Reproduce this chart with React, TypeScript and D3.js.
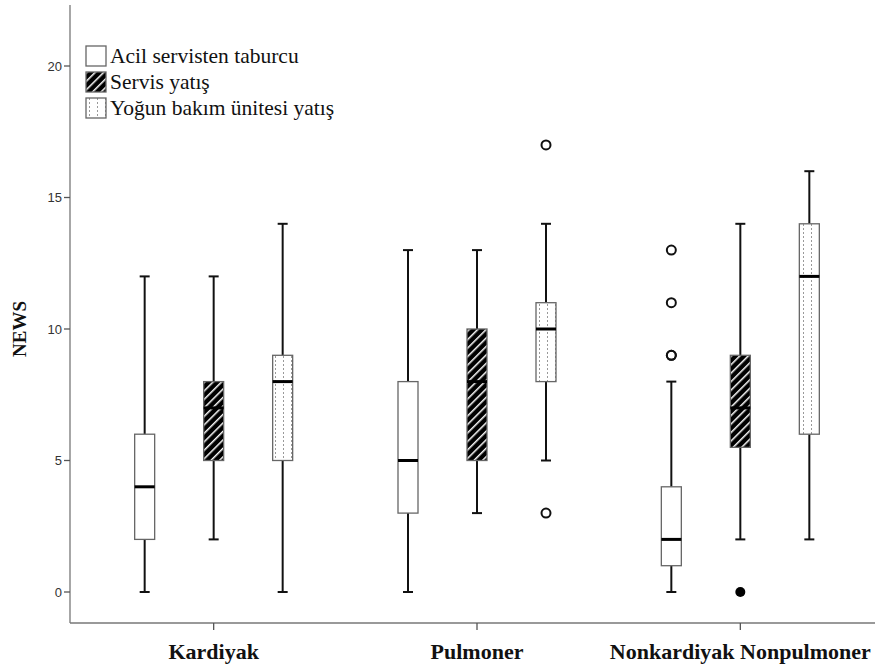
import React from "react";
import * as d3 from "d3";

const categories = ["Kardiyak", "Pulmoner", "Nonkardiyak Nonpulmoner"];
const groups = ["Acil servisten taburcu", "Servis yatış", "Yoğun bakım ünitesi yatış"];
const yTicks = [0, 5, 10, 15, 20];

// [min, q1, median, q3, max] per category per group
const acilStats = [
  [0, 2, 4, 6, 12],
  [0, 3, 5, 8, 13],
  [0, 1, 2, 4, 8],
];
const servisStats = [
  [2, 5, 7, 8, 12],
  [3, 5, 8, 10, 13],
  [2, 5.5, 7, 9, 14],
];
const yogunStats = [
  [0, 5, 8, 9, 14],
  [5, 8, 10, 11, 14],
  [2, 6, 12, 14, 16],
];
const acilOutliers = [[], [], [9, 9, 11, 13]];
const servisOutliers = [[], [], []];
const yogunOutliers = [[], [3, 17], []];
const acilExtremes = [[], [], []];
const servisExtremes = [[], [], [0]];
const yogunExtremes = [[], [], []];

const W = 875;
const H = 671;
const SERIF = "Liberation Serif, Times New Roman, serif";

export default function App() {
  const y = d3.scaleLinear().domain([0, 20]).range([592, 66]);
  const x = d3.scaleBand().domain(categories).range([82, 872]);
  const off = d3.scalePoint().domain(groups).range([-69, 69]);
  const stats = [acilStats, servisStats, yogunStats];
  const outs = [acilOutliers, servisOutliers, yogunOutliers];
  const extr = [acilExtremes, servisExtremes, yogunExtremes];
  const fills = ["#ffffff", "url(#hatch)", "url(#dots)"];
  const bw = 20;
  const capW = 10;
  const yTop = y.invert(5);
  const axisY = 623;
  const axisX = 70;

  return (
    <svg width={W} height={H} style={{ display: "block", position: "absolute", left: 0, top: 0 }}>
      <defs>
        <pattern id="hatch" patternUnits="userSpaceOnUse" width="6" height="6" patternTransform="rotate(45)">
          <rect width="6" height="6" fill="#000" />
          <rect x="0" y="0" width="1.5" height="6" fill="#fff" />
        </pattern>
        <pattern id="dots" patternUnits="userSpaceOnUse" width="8" height="4">
          <rect width="8" height="4" fill="#fff" />
          <rect x="3" y="0" width="1" height="2" fill="#999" />
        </pattern>
      </defs>
      <rect width={W} height={H} fill="#fff" />
      {/* axes */}
      <line x1={axisX} x2={axisX} y1={y(yTop)} y2={axisY} stroke="#777" strokeWidth={1.3} />
      <line x1={axisX} x2={W} y1={axisY} y2={axisY} stroke="#777" strokeWidth={1.3} />
      {yTicks.map((t) => (
        <g key={t}>
          <line x1={axisX - 6} x2={axisX} y1={y(t)} y2={y(t)} stroke="#555" strokeWidth={1.3} />
          <text x={axisX - 8} y={y(t)} dy="0.35em" textAnchor="end" fontFamily="Liberation Sans, Arial" fontSize={13} fill="#333">
            {t}
          </text>
        </g>
      ))}
      {categories.map((c) => {
        const cx = x(c)! + x.bandwidth() / 2;
        return (
          <g key={c}>
            <line x1={cx} x2={cx} y1={axisY} y2={axisY + 7} stroke="#555" strokeWidth={1.3} />
            <text x={cx} y={axisY + 36} textAnchor="middle" fontFamily={SERIF} fontWeight="bold" fontSize={22} fill="#111">
              {c}
            </text>
          </g>
        );
      })}
      <text transform={`translate(26,${y(10)}) rotate(-90)`} textAnchor="middle" fontFamily={SERIF} fontWeight="bold" fontSize={19} fill="#111">
        NEWS
      </text>
      {/* boxes */}
      {categories.map((c, ci) =>
        groups.map((g, gi) => {
          const cx = x(c)! + x.bandwidth() / 2 + off(g)!;
          const [mn, q1, md, q3, mx] = stats[gi][ci];
          return (
            <g key={c + g}>
              <line x1={cx} x2={cx} y1={y(mx)} y2={y(q3)} stroke="#111" strokeWidth={2} />
              <line x1={cx} x2={cx} y1={y(q1)} y2={y(mn)} stroke="#111" strokeWidth={2} />
              <line x1={cx - capW / 2} x2={cx + capW / 2} y1={y(mx)} y2={y(mx)} stroke="#111" strokeWidth={2} />
              <line x1={cx - capW / 2} x2={cx + capW / 2} y1={y(mn)} y2={y(mn)} stroke="#111" strokeWidth={2} />
              <rect x={cx - bw / 2} y={y(q3)} width={bw} height={y(q1) - y(q3)} fill={fills[gi]} stroke="#666" strokeWidth={1.3} />
              <line x1={cx - bw / 2} x2={cx + bw / 2} y1={y(md)} y2={y(md)} stroke="#000" strokeWidth={3} />
              {outs[gi][ci].map((v, i) => (
                <circle key={"o" + i} cx={cx} cy={y(v)} r={4.5} fill="none" stroke="#111" strokeWidth={2} />
              ))}
              {extr[gi][ci].map((v, i) => (
                <circle key={"e" + i} cx={cx} cy={y(v)} r={5} fill="#000" />
              ))}
            </g>
          );
        })
      )}
      {/* legend */}
      {groups.map((g, gi) => (
        <g key={g} transform={`translate(86,${46 + gi * 26})`}>
          <rect x={0} y={0} width={20} height={20} fill={fills[gi]} stroke="#666" strokeWidth={1.3} />
          <text x={24} y={17} fontFamily={SERIF} fontSize={21.5} fill="#111">
            {g}
          </text>
        </g>
      ))}
    </svg>
  );
}
